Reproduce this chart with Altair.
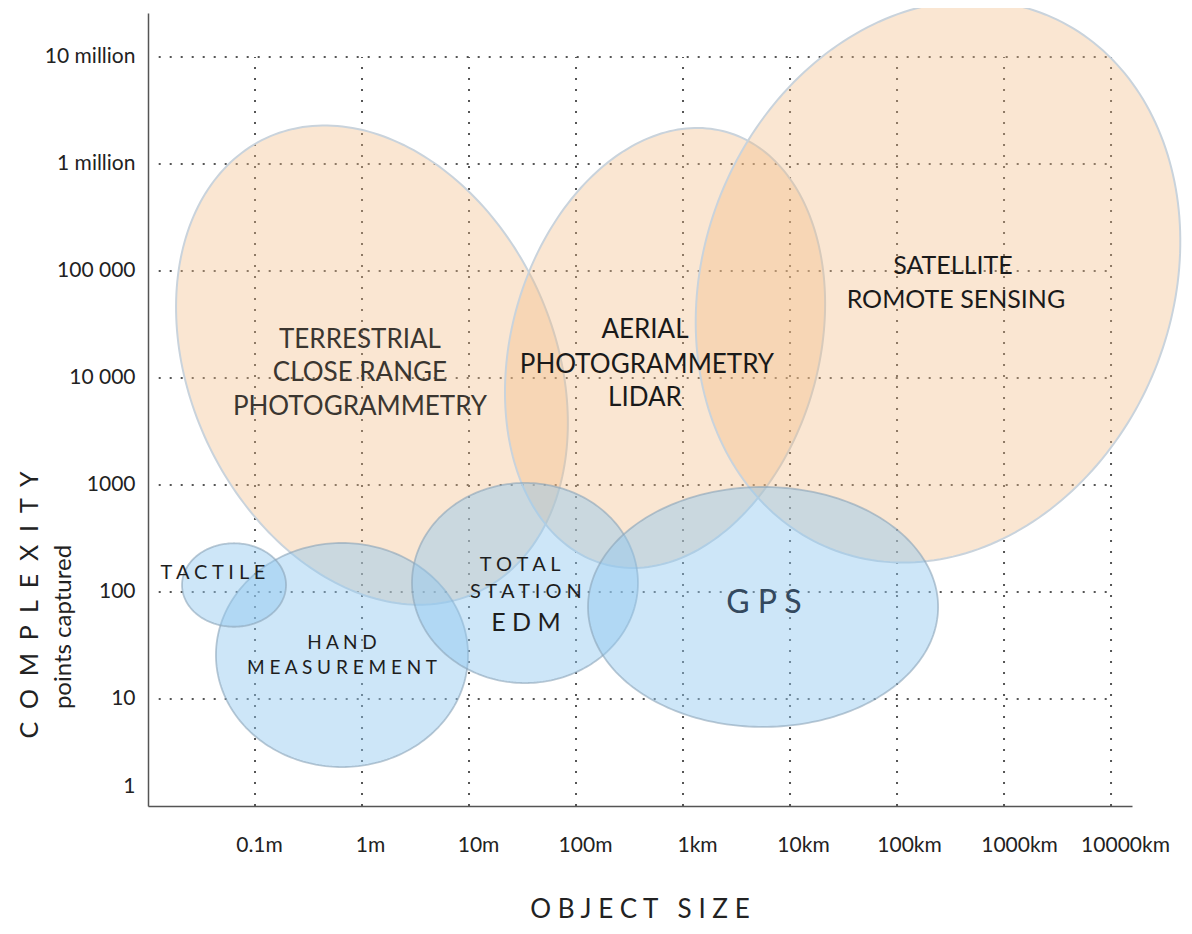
import numpy as np
import pandas as pd
import altair as alt

# ---------------- axis ticks ----------------
x_tick_values = [0.1, 1, 10, 100, 1000, 1e4, 1e5, 1e6, 1e7]
x_tick_labels = ["0.1m", "1m", "10m", "100m", "1km", "10km", "100km", "1000km", "10000km"]
y_tick_values = [1, 10, 100, 1000, 1e4, 1e5, 1e6, 1e7]
y_tick_labels = ["1", "10", "100", "1000", "10 000", "100 000", "1 million", "10 million"]

x_domain = [0.01, 10 ** 7.196]
y_domain = [1, 10 ** 7.41]

# ---------------- ellipses (log10 centre, semi-axes in decades, rotation deg) ----------------
ell_names = ["terrestrial", "aerial", "satellite", "hand", "tactile", "total", "gps"]
ell_group = ["optical", "optical", "optical", "contact", "contact", "contact", "contact"]
ell_cx = [0.093, 2.832, 5.383, -0.187, -1.196, 1.523, 3.748]
ell_cy = [4.12, 4.28, 4.90, 1.411, 2.065, 2.084, 1.86]
ell_rx = [1.70, 1.436, 2.187, 1.178, 0.486, 1.056, 1.636]
ell_ry = [2.34, 2.098, 2.69, 1.047, 0.39, 0.935, 1.121]
ell_rot = [25, -15.9, -22, 0, 0, 0, 0]

# ---------------- in-chart labels ----------------
NB = "\u00a0"
lab_text = ["TERRESTRIAL", "CLOSE RANGE", "PHOTOGRAMMETRY",
            "AERIAL", "PHOTOGRAMMETRY", "LIDAR",
            "SATELLITE", "ROMOTE SENSING",
            "T A C T I L E", "H A N D", "M E A S U R E M E N T",
            "T O T A L", "S T A T I O N", "E D M", "G P S"]
lab_x = [0.957, 0.957, 0.957, 441, 460, 441, 333000, 355000,
         0.0404, 0.65, 0.65, 30, 34, 34, 5710]
lab_y = [22650, 11140, 5355, 28100, 13220, 6500, 111400, 53550,
         150.6, 33.4, 19.5, 178.8, 100, 51.3, 78.9]
lab_size = [26, 26, 26, 26, 26, 26, 25, 25, 20, 19, 19, 20, 20, 25, 32]
lab_color = ["#3b3630"] * 3 + ["#1a1a1a"] * 5 + ["#1e1e1e"] * 6 + ["#34495e"]

# label nudges (pixels) for the hand-placed axis labels of the original
x_label_nudge = [4, 8, 9, 9, 14, 13, 12, 15, 14]
y_label_nudge = [-20, 0, 0, 0, 0, 0, 0, 0]

# ---------------- build tables ----------------
t = np.linspace(0, 2 * np.pi, 241)
rows = []
for n, g, cx, cy, rx, ry, rot in zip(ell_names, ell_group, ell_cx, ell_cy, ell_rx, ell_ry, ell_rot):
    r = np.deg2rad(rot)
    lx = cx + rx * np.cos(t) * np.cos(r) - ry * np.sin(t) * np.sin(r)
    ly = cy + rx * np.cos(t) * np.sin(r) + ry * np.sin(t) * np.cos(r)
    for i, (a, b) in enumerate(zip(lx, ly)):
        rows.append({"name": n, "group": g, "i": i, "x": 10 ** a, "y": 10 ** b})
ell_df = pd.DataFrame(rows)

vgrid = pd.DataFrame({"x": x_tick_values, "y": [y_tick_values[0]] * len(x_tick_values),
                      "y2": [y_tick_values[-1]] * len(x_tick_values)})
hgrid = pd.DataFrame({"y": y_tick_values[1:], "x": [10 ** -1.9] * (len(y_tick_values) - 1),
                      "x2": [x_tick_values[-1]] * (len(y_tick_values) - 1)})
lab_df = pd.DataFrame({"text": lab_text, "x": lab_x, "y": lab_y, "size": lab_size, "color": lab_color})


def test_for(v):
    return f"abs(log(datum.value)/LN10 - ({np.log10(v):.4f})) < 0.01"


def label_expr(values, labels):
    parts = [f"{test_for(v)} ? '{l}'" for v, l in zip(values, labels)]
    return " : ".join(parts) + " : ''"


def nudge(values, offsets):
    return {"condition": [{"test": test_for(v), "value": o} for v, o in zip(values, offsets) if o != 0],
            "value": 0}


FONT = "Lato"
xs = alt.Scale(type="log", domain=x_domain, nice=False)
ys = alt.Scale(type="log", domain=y_domain, nice=False)

x_axis = alt.Axis(values=x_tick_values, labelExpr=label_expr(x_tick_values, x_tick_labels), orient="bottom",
                  title=None, grid=False, ticks=False, labelPadding=28,
                  labelOffset=nudge(x_tick_values, x_label_nudge),
                  labelFontSize=21, labelFont=FONT, labelColor="#222",
                  domainColor="#555", domainWidth=1.5, labelFlush=False)
y_axis = alt.Axis(values=y_tick_values, labelExpr=label_expr(y_tick_values, y_tick_labels), orient="left",
                  title=None, grid=False, ticks=False, labelPadding=13,
                  labelOffset=nudge(y_tick_values, y_label_nudge),
                  labelFontSize=21, labelFont=FONT, labelColor="#222",
                  domainColor="#555", domainWidth=1.5, labelFlush=False)
xenc = alt.X("x:Q", scale=xs, axis=x_axis)
yenc = alt.Y("y:Q", scale=ys, axis=y_axis)

dot = dict(color="#555", strokeWidth=2, strokeDash=[2, 9], strokeCap="butt")
vg = alt.Chart(vgrid).mark_rule(**dot).encode(x=xenc, y=yenc, y2="y2")
hg = alt.Chart(hgrid).mark_rule(**dot).encode(y=yenc, x=xenc, x2="x2")

optical = alt.Chart(ell_df[ell_df.group == "optical"]).mark_line(
    interpolate="linear-closed", fill="#f2bb82", fillOpacity=0.36, stroke="#c9d3dc", strokeWidth=2
).encode(x=xenc, y=yenc, detail="name:N", order="i:Q")

contact = alt.Chart(ell_df[ell_df.group == "contact"]).mark_line(
    interpolate="linear-closed", fill="#90c7ef", fillOpacity=0.45, stroke="#8aa3b8", strokeWidth=1.8,
    strokeOpacity=0.6
).encode(x=xenc, y=yenc, detail="name:N", order="i:Q")

labels = alt.Chart(lab_df).mark_text(font=FONT, align="center", baseline="middle").encode(
    x=xenc, y=yenc, text="text:N",
    size=alt.Size("size:Q", scale=None, legend=None), color=alt.Color("color:N", scale=None, legend=None))

# axis titles
ytitle = alt.Chart(pd.DataFrame({"t": [(NB * 2).join("COMPLEXITY")]})).mark_text(
    font=FONT, fontSize=25, angle=270, color="#222", align="center", baseline="middle"
).encode(text="t:N", x=alt.value(-118), y=alt.value(592))
ysub = alt.Chart(pd.DataFrame({"t": ["points captured"]})).mark_text(
    font=FONT, fontSize=24, angle=270, color="#222", align="center", baseline="middle"
).encode(text="t:N", x=alt.value(-84), y=alt.value(614))
xtitle = alt.Chart(pd.DataFrame({"t": [NB.join("OBJECT") + NB * 3 + NB.join("SIZE")]})).mark_text(
    font=FONT, fontSize=26, color="#222", align="center", baseline="middle"
).encode(text="t:N", x=alt.value(492), y=alt.value(897))

chart = alt.layer(vg, hg, optical, contact, labels, ytitle, ysub, xtitle).properties(
    width=984, height=793,
    background="white",
    autosize=alt.AutoSizeParams(type="none"),
    padding={"left": 140, "top": 5, "right": 51, "bottom": 120},
).configure_view(strokeOpacity=0, strokeWidth=0)

chart.save("out.html", embed_options={"renderer": "svg", "actions": False})
